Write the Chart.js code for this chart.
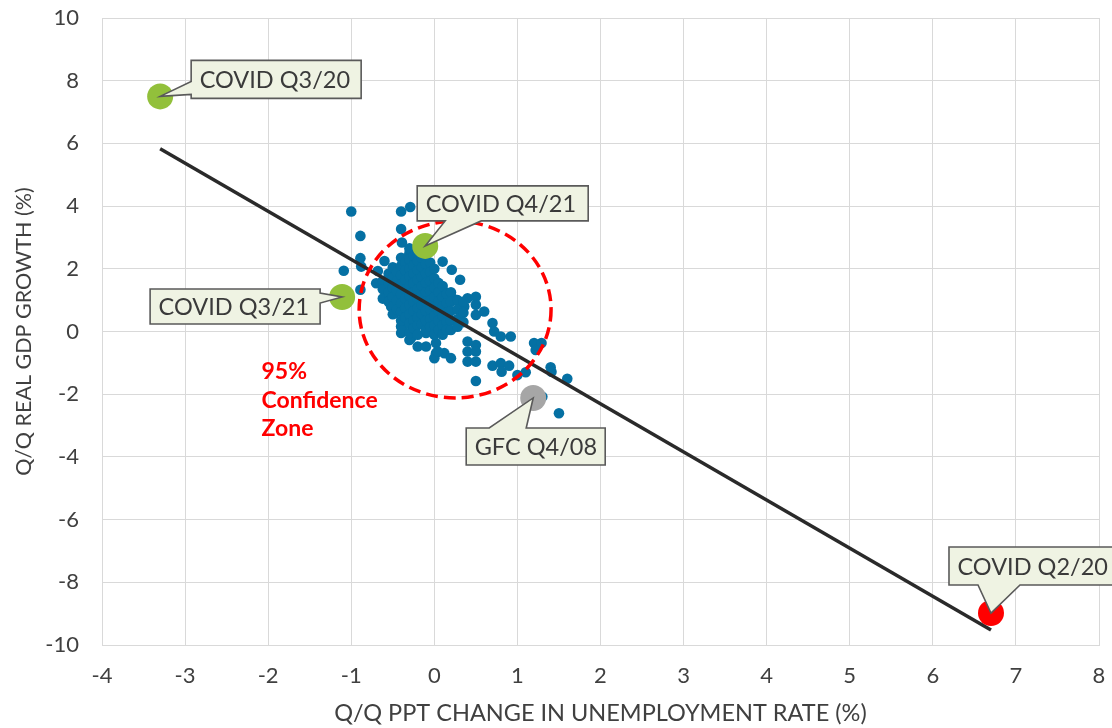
<!DOCTYPE html>
<html>
<head>
<meta charset="utf-8">
<script src="https://cdn.jsdelivr.net/npm/chart.js@4"></script>
<style>
  html, body { margin: 0; padding: 0; background: #ffffff; }
  #wrap { width: 1112px; height: 728px; position: relative; }
</style>
</head>
<body>
<div id="wrap"><canvas id="c" width="1112" height="728"></canvas></div>
<script>
// ---------- DATA ----------
// Quarterly observations: change in unemployment rate (ppt) vs real GDP growth (%)
const clusterX = [
  -1.00,-0.40,-0.29,-0.89,-0.40,-0.39,-1.09,-0.89,-0.88,-0.89,-0.60,-0.68,-0.70,-0.48,-0.30,-0.26,
   0.10, 0.21, 0.31, 0.12, 0.22, 0.40, 0.50, 0.36, 0.50, 0.60, 0.50, 0.70, 0.72, 0.80, 0.92, 0.40,
   0.50, 0.40, 0.50, 0.40, 0.50, 0.50, 0.70, 0.80, 0.90, 0.81, 1.00, 1.10, 1.20, 1.29, 1.22, 1.40,
   1.41, 1.60, 1.50, 1.30, 0.02, 0.02,-0.20,-0.10, 0.00, 0.12, 0.20,-0.40,-0.40,-0.30,-0.10,-0.52,
  -0.48,-0.38,-0.28, 0.04,
  -0.62,-0.62,-0.62,
  -0.55,-0.55,-0.55,-0.55,
  -0.50,-0.50,-0.50,-0.50,-0.50,-0.50,
  -0.45,-0.45,-0.45,-0.45,-0.45,
  -0.40,-0.40,-0.40,-0.40,-0.40,-0.40,-0.40,-0.40,
  -0.35,-0.35,-0.35,-0.35,-0.35,-0.35,-0.35,
  -0.30,-0.30,-0.30,-0.30,-0.30,-0.30,-0.30,-0.30,-0.30,-0.30,
  -0.25,-0.25,-0.25,-0.25,-0.25,-0.25,-0.25,-0.25,-0.25,
  -0.20,-0.20,-0.20,-0.20,-0.20,-0.20,-0.20,-0.20,-0.20,-0.20,
  -0.15,-0.15,-0.15,-0.15,-0.15,-0.15,-0.15,-0.15,
  -0.10,-0.10,-0.10,-0.10,-0.10,-0.10,-0.10,-0.10,-0.10,
  -0.05,-0.05,-0.05,-0.05,-0.05,-0.05,-0.05,-0.05,
   0.00, 0.00, 0.00, 0.00, 0.00, 0.00, 0.00, 0.00,
   0.05, 0.05, 0.05, 0.05, 0.05, 0.05,
   0.10, 0.10, 0.10, 0.10, 0.10, 0.10,
   0.15, 0.15, 0.15, 0.15, 0.15,
   0.20, 0.20, 0.20, 0.20, 0.20,
   0.28, 0.28, 0.28, 0.28,
   0.35, 0.35, 0.35
];
const clusterY = [
   3.83, 3.83, 3.97, 3.05, 3.27, 2.84, 1.94, 2.34, 2.07, 1.33, 2.25, 1.93, 1.54, 1.97, 2.50, 2.23,
   2.23, 1.97, 1.65, 1.27, 1.06, 1.06, 1.11, 0.80, 0.85, 0.64, 0.53, 0.27, 0.00,-0.16,-0.16,-0.32,
  -0.43,-0.64,-0.64,-0.96,-0.96,-1.58,-1.09,-1.01,-1.09,-1.28,-1.39,-1.30,-0.37,-0.37,-0.59,-1.14,
  -1.28,-1.51,-2.61,-2.08,-0.37,-0.69,-0.48,-0.48,-0.85,-0.69,-0.85, 0.16,-0.05,-0.27,-0.05, 0.80,
   0.58, 0.05,-0.21,-0.64,
   1.62, 1.35, 1.05,
   1.85, 1.55, 1.25, 0.95,
   2.05, 1.72, 1.40, 1.10, 0.80, 0.55,
   1.90, 1.60, 1.30, 0.98, 0.70,
   2.35, 2.10, 1.80, 1.50, 1.20, 0.90, 0.62, 0.35,
   2.20, 1.95, 1.65, 1.35, 1.05, 0.75, 0.45,
   2.65, 2.30, 2.00, 1.75, 1.45, 1.15, 0.85, 0.55, 0.25,-0.05,
   2.40, 2.10, 1.85, 1.55, 1.25, 0.95, 0.65, 0.35, 0.10,
   2.55, 2.25, 1.95, 1.65, 1.35, 1.05, 0.75, 0.45, 0.20,-0.10,
   2.35, 2.05, 1.75, 1.45, 1.15, 0.85, 0.55, 0.25,
   2.45, 2.15, 1.85, 1.55, 1.25, 0.95, 0.65, 0.35, 0.05,
   2.20, 1.90, 1.60, 1.30, 1.00, 0.70, 0.40, 0.15,
   2.00, 1.70, 1.40, 1.10, 0.80, 0.50, 0.20,-0.10,
   1.55, 1.25, 0.95, 0.65, 0.35, 0.05,
   1.45, 1.10, 0.80, 0.50, 0.20,-0.10,
   1.20, 0.90, 0.60, 0.30, 0.05,
   1.25, 0.95, 0.65, 0.35, 0.05,
   1.00, 0.70, 0.40, 0.15,
   0.95, 0.60, 0.30
];

// Highlighted quarters
const highlightLabels = ['COVID Q3/20', 'COVID Q4/21', 'COVID Q3/21', 'GFC Q4/08', 'COVID Q2/20'];
const highlightX = [-3.30, -0.11, -1.11, 1.19, 6.70];
const highlightY = [ 7.50,  2.73,  1.10, -2.12, -8.98];

// Linear trend line end points
const trendX = [-3.30, 6.70];
const trendY = [ 5.83, -9.52];

// 95% confidence zone (centre and radii, data units)
const zoneCentre = [0.25, 0.70];
const zoneRadius = [1.155, 2.82];
const zoneText = ['95%', 'Confidence', 'Zone'];
const zoneTextAnchor = [-2.08, -1.29];

// Axis ticks / titles
const xTickMin = -4, xTickMax = 8, xTickStep = 1;
const yTickMin = -10, yTickMax = 10, yTickStep = 2;
const xTitle = 'Q/Q PPT CHANGE IN UNEMPLOYMENT RATE (%)';
const yTitle = 'Q/Q REAL GDP GROWTH (%)';

// ---------- STYLE ----------
const FONT = 'Lato, "Open Sans", sans-serif';
const TXT = '#404040';
const highlightColors = ['#92c03b', '#92c03b', '#92c03b', '#a6a6a6', '#ff0000'];
// Callout box geometry, pixels relative to the point: box offset/size, wedge side and base span
const calloutStyle = [
  { dx: 31,   dy: -36, w: 170, h: 38, side: 'left',   b1: 21, b2: 34 },
  { dx: -8,   dy: -60, w: 171, h: 35, side: 'bottom', b1: 28, b2: 64 },
  { dx: -192, dy: -8,  w: 170, h: 35, side: 'right',  b1: 4,  b2: 14 },
  { dx: -67,  dy: 30,  w: 139, h: 37, side: 'top',    b1: 23, b2: 60 },
  { dx: -42,  dy: -66, w: 180, h: 38, side: 'bottom', b1: 29, b2: 71 }
];

const toPts = (xs, ys) => xs.map((x, i) => ({ x: x, y: ys[i] }));

const overlay = {
  id: 'overlay',
  afterDatasetsDraw(chart) {
    const ctx = chart.ctx;
    const xs = chart.scales.x, ys = chart.scales.y;

    // Dashed confidence ellipse
    const cx = xs.getPixelForValue(zoneCentre[0]);
    const cy = ys.getPixelForValue(zoneCentre[1]);
    const rx = Math.abs(xs.getPixelForValue(zoneCentre[0] + zoneRadius[0]) - cx);
    const ry = Math.abs(ys.getPixelForValue(zoneCentre[1] + zoneRadius[1]) - cy);
    ctx.save();
    ctx.strokeStyle = '#ff0000';
    ctx.lineWidth = 3.5;
    ctx.setLineDash([12, 6]);
    ctx.beginPath();
    ctx.ellipse(cx, cy, rx, ry, 0, 0, Math.PI * 2);
    ctx.stroke();
    ctx.restore();

    // Zone text
    ctx.save();
    ctx.fillStyle = '#ff0000';
    ctx.font = 'bold 23px ' + FONT;
    ctx.textAlign = 'left';
    ctx.textBaseline = 'middle';
    const tx = xs.getPixelForValue(zoneTextAnchor[0]);
    const ty = ys.getPixelForValue(zoneTextAnchor[1]);
    zoneText.forEach((t, i) => ctx.fillText(t, tx, ty + i * 28.5));
    ctx.restore();

    // Callouts
    highlightLabels.forEach((label, i) => {
      const s = calloutStyle[i];
      const px = xs.getPixelForValue(highlightX[i]);
      const py = ys.getPixelForValue(highlightY[i]);
      const L = px + s.dx, T = py + s.dy, R = L + s.w, B = T + s.h;
      const p = [];
      if (s.side === 'bottom') {
        p.push([L, T], [R, T], [R, B], [L + s.b2, B], [px, py], [L + s.b1, B], [L, B]);
      } else if (s.side === 'top') {
        p.push([L, T], [L + s.b1, T], [px, py], [L + s.b2, T], [R, T], [R, B], [L, B]);
      } else if (s.side === 'left') {
        p.push([L, T], [R, T], [R, B], [L, B], [L, T + s.b2], [px, py], [L, T + s.b1]);
      } else {
        p.push([L, T], [R, T], [R, T + s.b1], [px, py], [R, T + s.b2], [R, B], [L, B]);
      }
      ctx.save();
      ctx.beginPath();
      p.forEach((q, k) => k ? ctx.lineTo(q[0], q[1]) : ctx.moveTo(q[0], q[1]));
      ctx.closePath();
      ctx.fillStyle = '#eff3e3';
      ctx.fill();
      ctx.lineWidth = 1.6;
      ctx.strokeStyle = '#5a5a5a';
      ctx.lineJoin = 'miter';
      ctx.stroke();
      ctx.fillStyle = '#3a3a3a';
      ctx.font = '23.5px ' + FONT;
      ctx.textAlign = 'left';
      ctx.textBaseline = 'middle';
      ctx.fillText(label, L + 8.5, T + s.h / 2 + 1);
      ctx.restore();
    });
  }
};

new Chart(document.getElementById('c'), {
  type: 'scatter',
  data: {
    datasets: [
      {
        label: 'Trend',
        type: 'line',
        data: toPts(trendX, trendY),
        borderColor: '#2a2a2a',
        borderWidth: 3.5,
        pointRadius: 0,
        fill: false,
        order: 1
      },
      {
        label: 'Highlights',
        data: toPts(highlightX, highlightY),
        backgroundColor: highlightColors,
        borderWidth: 0,
        pointRadius: 13,
        order: 0
      },
      {
        label: 'Quarters',
        data: toPts(clusterX, clusterY),
        backgroundColor: '#0570a3',
        borderWidth: 0,
        pointRadius: 5.3,
        order: 3
      }
    ]
  },
  options: {
    responsive: false,
    animation: false,
    events: [],
    layout: { padding: { top: 18, right: 10, left: 0, bottom: 0 } },
    plugins: { legend: { display: false }, tooltip: { enabled: false } },
    scales: {
      x: {
        type: 'linear',
        min: xTickMin, max: xTickMax,
        afterFit: (s) => { s.height = 83; s.paddingLeft = 0; s.paddingRight = 0; },
        grid: { color: '#d9d9d9', lineWidth: 1, drawTicks: false },
        border: { color: '#d9d9d9' },
        ticks: { stepSize: xTickStep, padding: 18, color: TXT, font: { family: FONT, size: 22 } },
        title: { display: true, text: xTitle, color: TXT, font: { family: FONT, size: 23.5 }, padding: { top: 0, bottom: 0 } }
      },
      y: {
        type: 'linear',
        min: yTickMin, max: yTickMax,
        afterFit: (s) => { s.width = 102; s.paddingTop = 0; s.paddingBottom = 0; },
        grid: { color: '#d9d9d9', lineWidth: 1, drawTicks: false },
        border: { color: '#d9d9d9' },
        ticks: { stepSize: yTickStep, padding: 23, color: TXT, font: { family: FONT, size: 22 } },
        title: { display: true, text: yTitle, color: TXT, font: { family: FONT, size: 21.5 }, padding: { top: 11, bottom: 0 } }
      }
    }
  },
  plugins: [overlay]
});
</script>
</body>
</html>
